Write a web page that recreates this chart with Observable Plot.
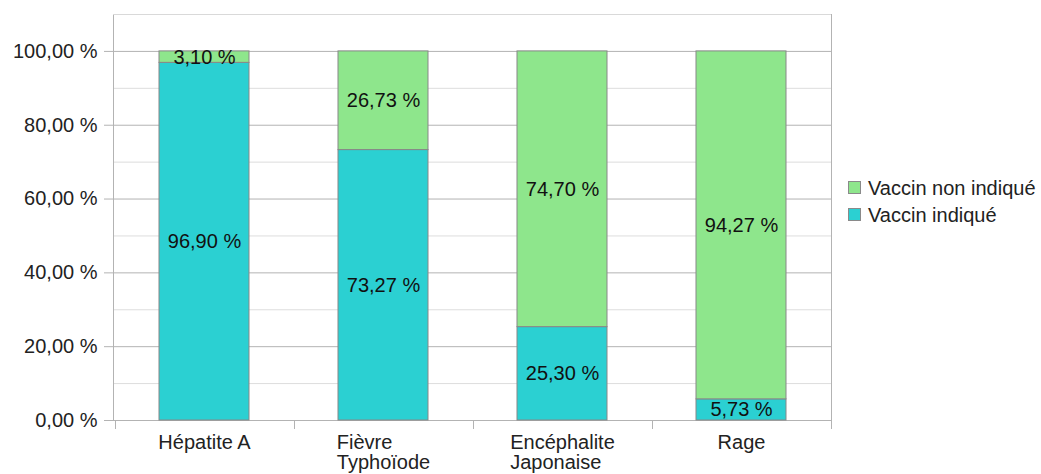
<!DOCTYPE html>
<html><head><meta charset="utf-8">
<script src="https://cdn.jsdelivr.net/npm/d3@7"></script>
<script src="https://cdn.jsdelivr.net/npm/@observablehq/plot@0.6"></script>
<style>
body{margin:0;background:#fff;font-family:"Liberation Sans",Arial,sans-serif;}
#wrap{position:relative;width:1041px;height:474px;}
#legend{position:absolute;left:848px;top:174px;font-size:20px;color:#222;line-height:20px;}
.row{display:flex;align-items:center;height:27px;}
.sw{width:13px;height:13px;border:1px solid #8a8a8a;margin-right:7px;box-sizing:border-box;}
</style></head><body><div id="wrap"></div>
<script>
const categories = ["Hépatite A", "Fièvre\nTyphoïode", "Encéphalite\nJaponaise", "Rage"];
const seriesNames = ["Vaccin indiqué", "Vaccin non indiqué"];
const vaccinIndique = [96.90, 73.27, 25.30, 5.73];
const vaccinNonIndique = [3.10, 26.73, 74.70, 94.27];
const yTicks = [0, 20, 40, 60, 80, 100];
const yMinor = [10, 30, 50, 70, 90, 110];
const seriesColors = ["#2bd0d2", "#8ee68c"];

const data = [];
categories.forEach((c, i) => data.push({cat: c, series: seriesNames[0], value: vaccinIndique[i]}));
categories.forEach((c, i) => data.push({cat: c, series: seriesNames[1], value: vaccinNonIndique[i]}));

const fmt = v => v.toFixed(2).replace(".", ",") + " %";

const plot = Plot.plot({
  width: 1041,
  height: 474,
  marginLeft: 113,
  marginRight: 210,
  marginTop: 14,
  marginBottom: 54,
  style: {fontFamily: "Liberation Sans, Arial, sans-serif", fontSize: "20px", color: "#222", background: "#fff"},
  x: {domain: categories, paddingInner: 0.5, paddingOuter: 0.25, label: null},
  y: {domain: [0, 110], label: null},
  color: {domain: seriesNames, range: seriesColors},
  marks: [
    Plot.ruleY(yMinor, {stroke: "#dddddd"}),
    Plot.ruleY(yTicks, {stroke: "#b3b3b3"}),
    Plot.frame({stroke: "#b3b3b3"}),
    Plot.ruleY([110], {stroke: "#d9d9d9"}),
    Plot.axisY({ticks: yTicks, tickFormat: fmt, tickSize: 9, tickPadding: 7, stroke: "#b3b3b3", fill: "#222", label: null}),
    Plot.axisX({tickSize: 0, tickPadding: 14, lineHeight: 1, fill: "#222", label: null}),
    Plot.barY(data, Plot.stackY({x: "cat", y: "value", fill: "series", stroke: "#888", strokeWidth: 1, order: seriesNames})),
    Plot.text(data, Plot.stackY({x: "cat", y: "value", z: "series", order: seriesNames, text: d => fmt(d.value), fill: "#111", fontSize: 20}))
  ]
});

const wrap = document.getElementById("wrap");
wrap.appendChild(plot);

// left-align multi-line x labels within a centered block
d3.select(plot).selectAll('g[aria-label="x-axis tick label"] text').each(function() {
  const w = this.getBBox().width;
  const t = d3.select(this);
  const spans = t.selectAll("tspan");
  if (!spans.empty()) {
    t.attr("text-anchor", "start");
    spans.attr("x", -w / 2);
  }
});

// boundary ticks on the x axis
const xs = plot.scale("x"), ys = plot.scale("y");
const gap = (xs.step - xs.bandwidth) / 2;
const bounds = categories.map(c => xs.apply(c) - gap);
bounds.push(xs.apply(categories[categories.length - 1]) + xs.bandwidth + gap);
const y0 = ys.apply(0);
d3.select(plot).append("g").selectAll("line").data(bounds).join("line")
  .attr("x1", d => Math.round(d) + 0.5).attr("x2", d => Math.round(d) + 0.5)
  .attr("y1", y0).attr("y2", y0 + 9)
  .attr("stroke", "#b3b3b3");

// legend
const legend = document.createElement("div");
legend.id = "legend";
[seriesNames[1], seriesNames[0]].forEach(name => {
  const row = document.createElement("div");
  row.className = "row";
  const sw = document.createElement("div");
  sw.className = "sw";
  sw.style.background = seriesColors[seriesNames.indexOf(name)];
  const tx = document.createElement("span");
  tx.textContent = name;
  row.appendChild(sw); row.appendChild(tx);
  legend.appendChild(row);
});
wrap.appendChild(legend);
</script></body></html>
